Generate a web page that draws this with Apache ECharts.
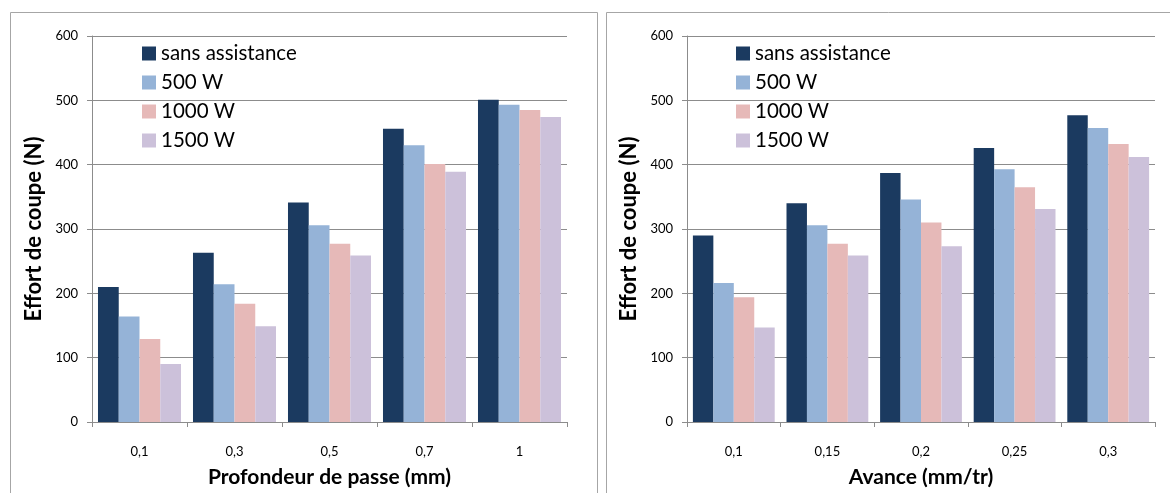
<!DOCTYPE html>
<html><head><meta charset="utf-8">
<script src="https://cdn.jsdelivr.net/npm/echarts@6/dist/echarts.min.js"></script>
<style>html,body{margin:0;padding:0;background:#fff}#c{width:1170px;height:493px}</style>
</head><body><div id="c"></div>
<script>
const seriesNames = ['sans assistance', '500 W', '1000 W', '1500 W'];
const colors = ['#1b3a60', '#95b3d7', '#e6b9b8', '#ccc1da'];
const yTicks = [0, 100, 200, 300, 400, 500, 600];

// Left chart: Profondeur de passe
const catsLeft = ['0,1', '0,3', '0,5', '0,7', '1'];
const leftSans = [210, 263, 341, 456, 501];
const left500 = [164, 214, 306, 430, 493];
const left1000 = [129, 184, 277, 401, 485];
const left1500 = [90, 149, 259, 389, 474];

// Right chart: Avance
const catsRight = ['0,1', '0,15', '0,2', '0,25', '0,3'];
const rightSans = [290, 340, 387, 426, 477];
const right500 = [216, 306, 346, 393, 457];
const right1000 = [194, 277, 310, 365, 432];
const right1500 = [147, 259, 273, 331, 412];

const FONT = 'Lato, "Liberation Sans", sans-serif';
const gridColor = '#8c8c8c';
const leftData = [leftSans, left500, left1000, left1500];
const rightData = [rightSans, right500, right1000, right1500];

function xAx(idx, cats, name) {
  return {
    type: 'category', gridIndex: idx, data: cats,
    name: name, nameLocation: 'middle', nameGap: 45,
    nameTextStyle: {fontFamily: FONT, fontSize: 21, fontWeight: 'bold', color: '#000'},
    axisLine: {lineStyle: {color: gridColor}},
    axisTick: {show: true, length: 5, lineStyle: {color: gridColor}},
    axisLabel: {fontFamily: FONT, fontSize: 13, color: '#000', margin: 23}
  };
}
function yAx(idx) {
  return {
    type: 'value', gridIndex: idx, min: yTicks[0], max: yTicks[yTicks.length - 1], interval: 100,
    name: 'Effort de coupe (N)', nameLocation: 'middle', nameGap: 47, nameRotate: 90,
    nameTextStyle: {fontFamily: FONT, fontSize: 22, fontWeight: 'bold', color: '#000'},
    axisLine: {show: true, lineStyle: {color: gridColor}},
    axisTick: {show: true, length: 5, lineStyle: {color: gridColor}},
    splitLine: {lineStyle: {color: gridColor, width: 1}},
    axisLabel: {fontFamily: FONT, fontSize: 13, color: '#000', margin: 14}
  };
}
const series = [];
[leftData, rightData].forEach((dataSet, g) => {
  dataSet.forEach((vals, i) => {
    series.push({
      type: 'bar', name: seriesNames[i], xAxisIndex: g, yAxisIndex: g,
      data: vals, barGap: '0%', barCategoryGap: '12.6%',
      itemStyle: {color: colors[i]}, silent: true, animation: false
    });
  });
});
function legend(left) {
  return {
    orient: 'vertical', left: left, top: 38, itemWidth: 14, itemHeight: 14, itemGap: 8,
    icon: 'rect', data: seriesNames,
    textStyle: {fontFamily: FONT, fontSize: 20.5, color: '#000'}
  };
}
const chart = echarts.init(document.getElementById('c'), null, {renderer: 'canvas'});
chart.setOption({
  animation: false,
  color: colors,
  grid: [
    {left: 92, right: 603, top: 36, bottom: 70},
    {left: 687, right: 15, top: 36, bottom: 70}
  ],
  xAxis: [xAx(0, catsLeft, 'Profondeur de passe (mm)'), xAx(1, catsRight, 'Avance (mm/tr)')],
  yAxis: [yAx(0), yAx(1)],
  legend: [legend(137), legend(731)],
  series: series,
  graphic: [
    {type: 'rect', shape: {x: 10.5, y: 12.5, width: 587, height: 520}, style: {fill: 'none', stroke: '#a6a6a6', lineWidth: 1}, silent: true},
    {type: 'rect', shape: {x: 606.5, y: 12.5, width: 620, height: 520}, style: {fill: 'none', stroke: '#a6a6a6', lineWidth: 1}, silent: true}
  ]
});
</script></body></html>
